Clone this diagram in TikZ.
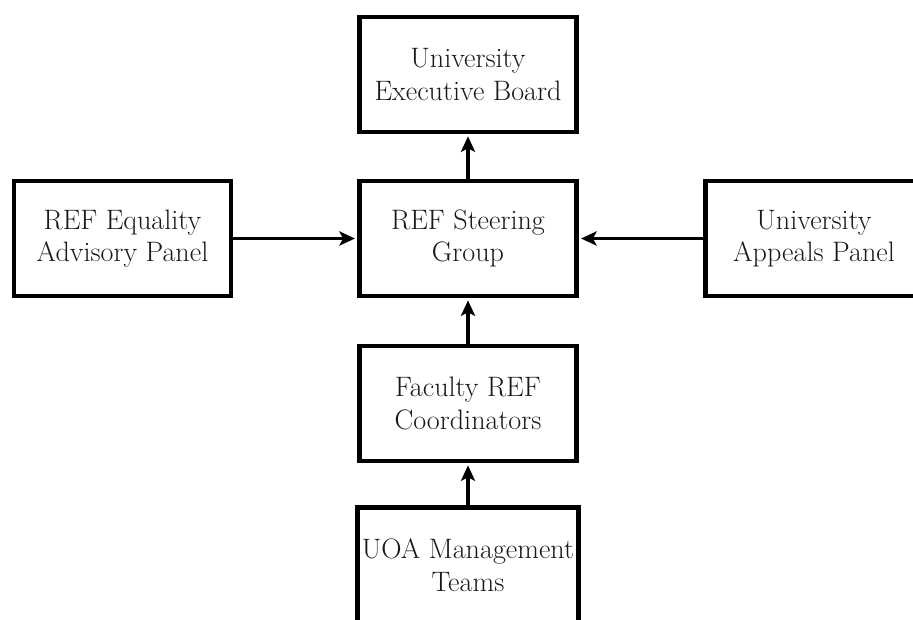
\documentclass[tikz,border=0pt]{standalone}
\usetikzlibrary{arrows.meta}

\tikzset{
    unitbox/.style={draw, line width=3.3pt, minimum width=5.43cm, minimum height=2.87cm,
        align=center, text=black!90, font=\fontsize{20}{23}\selectfont},
    flow/.style={-{Stealth[length=11pt, width=10pt, inset=2.5pt]}, line width=2.2pt, shorten >=1.5pt}
}

\begin{document}
\begin{tikzpicture}[x=0.025cm, y=-0.025cm]
    \clip (0, 0) rectangle (913, 619);
    \node[unitbox] (board) at (468, 74.5) {University\\Executive Board};
    \node[unitbox] (steering) at (468, 238.5) {REF Steering\\Group};
    \node[unitbox] (equality) at (122.5, 238.5) {REF Equality\\Advisory Panel};
    \node[unitbox] (appeals) at (814, 238.5) {University\\Appeals Panel};
    \node[unitbox] (faculty) at (468, 403.5) {Faculty REF\\Coordinators};
    \node[unitbox] (uoa) at (468, 565) {UOA Management\\Teams};
    \draw[flow] (steering) -- (board);
    \draw[flow] (equality) -- (steering);
    \draw[flow] (appeals) -- (steering);
    \draw[flow] (faculty) -- (steering);
    \draw[flow] (uoa) -- (faculty);
\end{tikzpicture}
\end{document}
